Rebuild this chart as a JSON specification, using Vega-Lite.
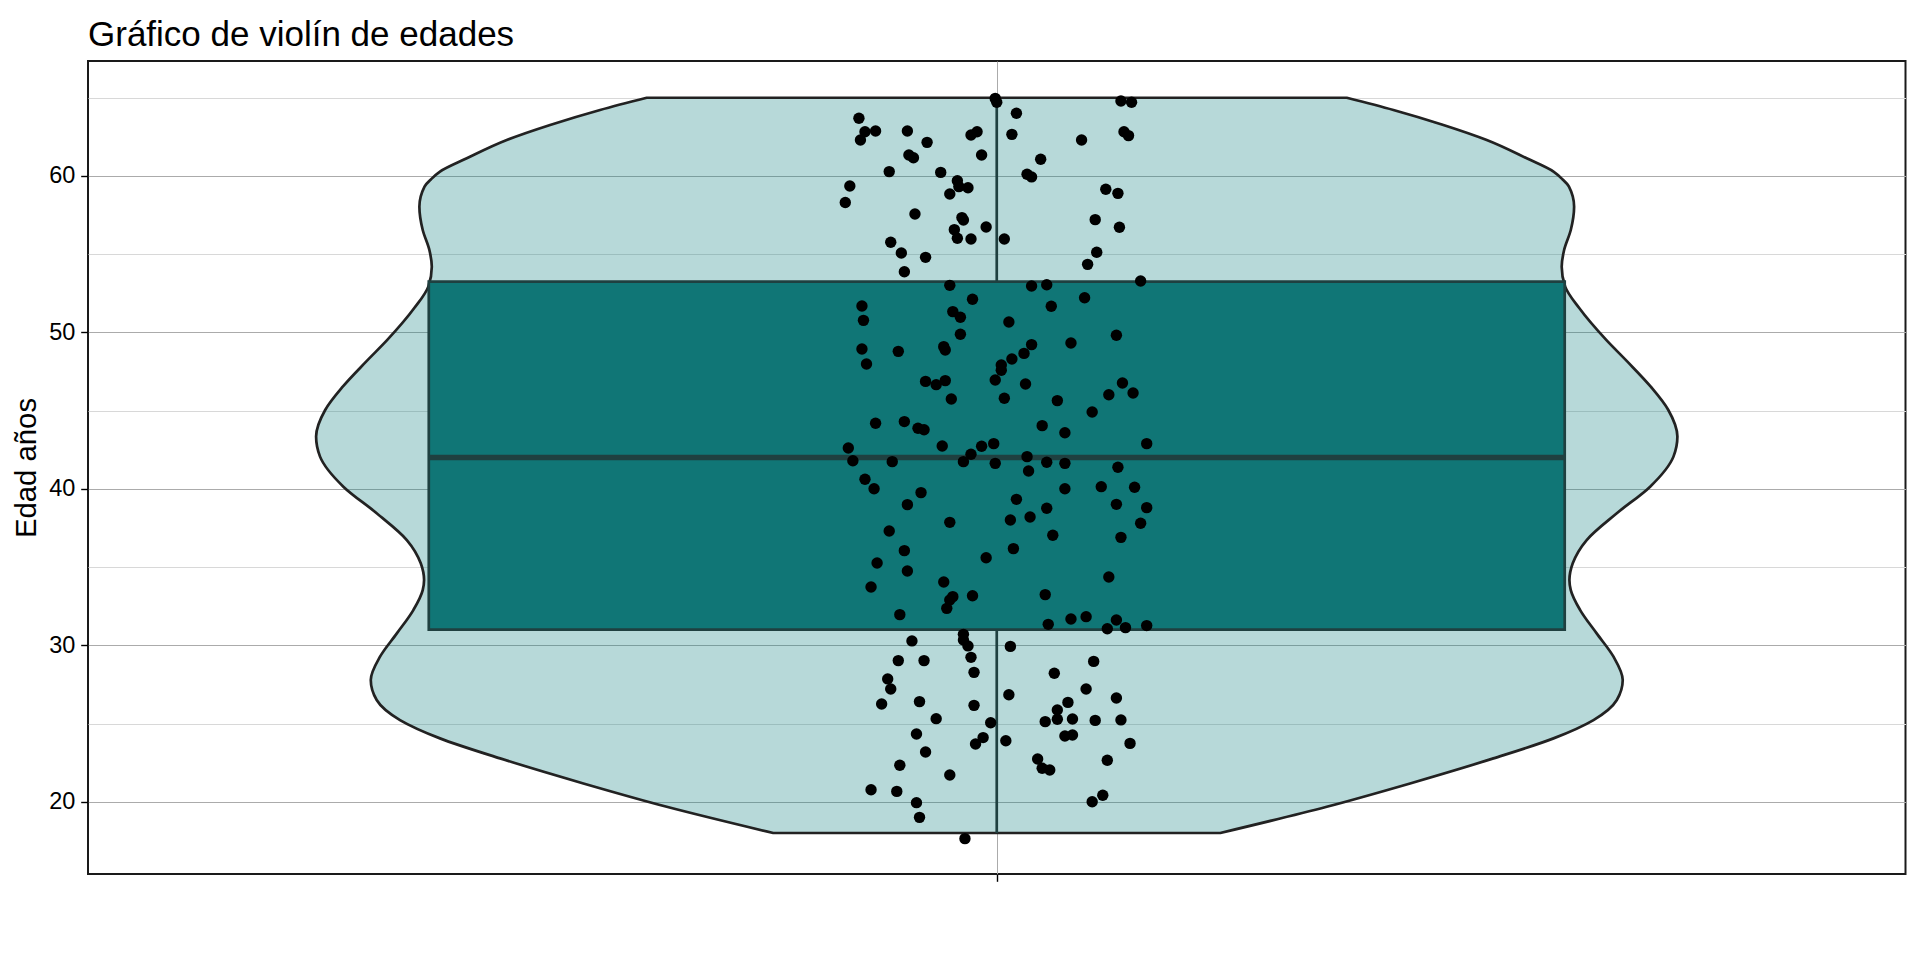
{
  "$schema": "https://vega.github.io/schema/vega-lite/v6.json",
  "width": 1817.5,
  "height": 813,
  "autosize": {"type": "none"},
  "padding": {"left": 88, "top": 61, "right": 14.5, "bottom": 86},
  "background": "white",
  "title": {
    "text": "Gráfico de violín de edades",
    "anchor": "start",
    "frame": "group",
    "font": "Liberation Sans",
    "fontSize": 35,
    "fontWeight": "normal",
    "color": "#000000",
    "baseline": "bottom",
    "offset": 10,
    "dy": 37
  },
  "config": {
    "view": {"stroke": "#1a1a1a", "strokeWidth": 2}
  },
  "datasets": {
    "violin": [
      {"edad": 18.0, "ancho": 0.295},
      {"edad": 19.68, "ancho": 0.4358},
      {"edad": 21.17, "ancho": 0.5458},
      {"edad": 22.77, "ancho": 0.6558},
      {"edad": 24.05, "ancho": 0.7352},
      {"edad": 25.22, "ancho": 0.788},
      {"edad": 26.5, "ancho": 0.8188},
      {"edad": 27.78, "ancho": 0.8266},
      {"edad": 29.27, "ancho": 0.8144},
      {"edad": 30.76, "ancho": 0.7922},
      {"edad": 32.25, "ancho": 0.7704},
      {"edad": 33.53, "ancho": 0.758},
      {"edad": 34.17, "ancho": 0.7562},
      {"edad": 35.24, "ancho": 0.7606},
      {"edad": 36.73, "ancho": 0.779},
      {"edad": 38.44, "ancho": 0.8188},
      {"edad": 40.14, "ancho": 0.8628},
      {"edad": 42.06, "ancho": 0.8936},
      {"edad": 43.34, "ancho": 0.8988},
      {"edad": 45.04, "ancho": 0.8868},
      {"edad": 46.53, "ancho": 0.8636},
      {"edad": 48.13, "ancho": 0.8328},
      {"edad": 49.52, "ancho": 0.8048},
      {"edad": 51.54, "ancho": 0.7694},
      {"edad": 52.93, "ancho": 0.7506},
      {"edad": 54.2, "ancho": 0.746},
      {"edad": 55.27, "ancho": 0.7492},
      {"edad": 56.55, "ancho": 0.758},
      {"edad": 58.04, "ancho": 0.7624},
      {"edad": 59.32, "ancho": 0.7556},
      {"edad": 59.79, "ancho": 0.747},
      {"edad": 60.28, "ancho": 0.7352},
      {"edad": 61.13, "ancho": 0.6998},
      {"edad": 62.3, "ancho": 0.647},
      {"edad": 63.26, "ancho": 0.5898},
      {"edad": 64.22, "ancho": 0.5238},
      {"edad": 65.0, "ancho": 0.4622}
    ],
    "resumen": [
      {"minimo": 18, "q1": 31, "mediana": 42, "q3": 53.25, "maximo": 65}
    ],
    "puntos": [
      {"edad": 64.96, "jitter": -0.001}, {"edad": 64.71, "jitter": 0.0}, {"edad": 64.79, "jitter": 0.082}, {"edad": 64.71, "jitter": 0.089},
      {"edad": 63.69, "jitter": -0.091}, {"edad": 64.01, "jitter": 0.013}, {"edad": 62.83, "jitter": -0.087}, {"edad": 62.88, "jitter": -0.08},
      {"edad": 62.3, "jitter": -0.09}, {"edad": 62.88, "jitter": -0.059}, {"edad": 62.62, "jitter": -0.017}, {"edad": 62.83, "jitter": -0.013},
      {"edad": 62.66, "jitter": 0.01}, {"edad": 62.83, "jitter": 0.084}, {"edad": 62.58, "jitter": 0.087}, {"edad": 62.15, "jitter": -0.046},
      {"edad": 62.3, "jitter": 0.056}, {"edad": 61.34, "jitter": -0.058}, {"edad": 61.17, "jitter": -0.055}, {"edad": 61.34, "jitter": -0.01},
      {"edad": 61.07, "jitter": 0.029}, {"edad": 60.28, "jitter": -0.071}, {"edad": 60.23, "jitter": -0.037}, {"edad": 60.11, "jitter": 0.02},
      {"edad": 59.94, "jitter": 0.023}, {"edad": 59.7, "jitter": -0.026}, {"edad": 59.32, "jitter": -0.025}, {"edad": 59.25, "jitter": -0.019},
      {"edad": 59.36, "jitter": -0.097}, {"edad": 58.85, "jitter": -0.031}, {"edad": 59.15, "jitter": 0.072}, {"edad": 58.89, "jitter": 0.08},
      {"edad": 58.3, "jitter": -0.1}, {"edad": 57.57, "jitter": -0.054}, {"edad": 57.34, "jitter": -0.023}, {"edad": 57.19, "jitter": -0.022},
      {"edad": 57.21, "jitter": 0.065}, {"edad": 56.74, "jitter": -0.007}, {"edad": 56.72, "jitter": 0.081}, {"edad": 56.57, "jitter": -0.028},
      {"edad": 55.76, "jitter": -0.07}, {"edad": 56.02, "jitter": -0.026}, {"edad": 55.97, "jitter": -0.017}, {"edad": 55.97, "jitter": 0.005},
      {"edad": 55.08, "jitter": -0.063}, {"edad": 54.8, "jitter": -0.047}, {"edad": 53.88, "jitter": -0.061}, {"edad": 55.12, "jitter": 0.066},
      {"edad": 54.35, "jitter": 0.06}, {"edad": 53.29, "jitter": 0.095}, {"edad": 53.01, "jitter": -0.031}, {"edad": 52.97, "jitter": 0.023},
      {"edad": 53.05, "jitter": 0.033}, {"edad": 52.12, "jitter": -0.016}, {"edad": 52.22, "jitter": 0.058}, {"edad": 51.69, "jitter": -0.089},
      {"edad": 51.67, "jitter": 0.036}, {"edad": 50.77, "jitter": -0.088}, {"edad": 51.33, "jitter": -0.029}, {"edad": 50.97, "jitter": -0.024},
      {"edad": 50.67, "jitter": 0.008}, {"edad": 49.88, "jitter": -0.024}, {"edad": 49.82, "jitter": 0.079}, {"edad": 48.94, "jitter": -0.089},
      {"edad": 48.79, "jitter": -0.065}, {"edad": 49.09, "jitter": -0.035}, {"edad": 48.88, "jitter": -0.034}, {"edad": 49.22, "jitter": 0.023},
      {"edad": 48.66, "jitter": 0.018}, {"edad": 49.32, "jitter": 0.049}, {"edad": 48.3, "jitter": 0.01}, {"edad": 47.92, "jitter": 0.003},
      {"edad": 47.58, "jitter": 0.003}, {"edad": 47.98, "jitter": -0.086}, {"edad": 46.87, "jitter": -0.047}, {"edad": 46.66, "jitter": -0.04},
      {"edad": 46.92, "jitter": -0.034}, {"edad": 46.96, "jitter": -0.001}, {"edad": 46.7, "jitter": 0.019}, {"edad": 46.77, "jitter": 0.083},
      {"edad": 46.13, "jitter": 0.09}, {"edad": 46.02, "jitter": 0.074}, {"edad": 45.74, "jitter": -0.03}, {"edad": 45.79, "jitter": 0.005},
      {"edad": 45.64, "jitter": 0.04}, {"edad": 44.91, "jitter": 0.063}, {"edad": 44.19, "jitter": -0.08}, {"edad": 44.3, "jitter": -0.061},
      {"edad": 43.87, "jitter": -0.052}, {"edad": 43.78, "jitter": -0.048}, {"edad": 44.04, "jitter": 0.03}, {"edad": 43.59, "jitter": 0.045},
      {"edad": 42.61, "jitter": -0.098}, {"edad": 42.74, "jitter": -0.036}, {"edad": 42.72, "jitter": -0.01}, {"edad": 42.89, "jitter": -0.002},
      {"edad": 42.89, "jitter": 0.099}, {"edad": 42.21, "jitter": -0.017}, {"edad": 41.74, "jitter": -0.022}, {"edad": 41.8, "jitter": -0.095},
      {"edad": 41.74, "jitter": -0.069}, {"edad": 42.06, "jitter": 0.02}, {"edad": 41.7, "jitter": 0.033}, {"edad": 41.63, "jitter": 0.045},
      {"edad": 41.63, "jitter": -0.001}, {"edad": 41.14, "jitter": 0.021}, {"edad": 41.38, "jitter": 0.08}, {"edad": 40.61, "jitter": -0.087},
      {"edad": 40.01, "jitter": -0.081}, {"edad": 39.76, "jitter": -0.05}, {"edad": 38.99, "jitter": -0.059}, {"edad": 40.01, "jitter": 0.045},
      {"edad": 40.14, "jitter": 0.069}, {"edad": 40.1, "jitter": 0.091}, {"edad": 39.33, "jitter": 0.013}, {"edad": 39.01, "jitter": 0.079},
      {"edad": 38.8, "jitter": 0.099}, {"edad": 38.76, "jitter": 0.033}, {"edad": 38.2, "jitter": 0.022}, {"edad": 38.01, "jitter": 0.009},
      {"edad": 37.86, "jitter": -0.031}, {"edad": 37.8, "jitter": 0.095}, {"edad": 37.31, "jitter": -0.071}, {"edad": 37.03, "jitter": 0.037},
      {"edad": 36.9, "jitter": 0.082}, {"edad": 36.05, "jitter": -0.061}, {"edad": 36.18, "jitter": 0.011}, {"edad": 35.6, "jitter": -0.007},
      {"edad": 35.26, "jitter": -0.079}, {"edad": 34.75, "jitter": -0.059}, {"edad": 34.37, "jitter": 0.074}, {"edad": 33.73, "jitter": -0.083},
      {"edad": 34.05, "jitter": -0.035}, {"edad": 33.11, "jitter": -0.029}, {"edad": 32.9, "jitter": -0.031}, {"edad": 33.17, "jitter": -0.016},
      {"edad": 33.24, "jitter": 0.032}, {"edad": 32.36, "jitter": -0.033}, {"edad": 31.96, "jitter": -0.064}, {"edad": 31.34, "jitter": 0.034},
      {"edad": 31.68, "jitter": 0.049}, {"edad": 31.83, "jitter": 0.059}, {"edad": 31.62, "jitter": 0.079}, {"edad": 31.06, "jitter": 0.073},
      {"edad": 31.13, "jitter": 0.085}, {"edad": 31.26, "jitter": 0.099}, {"edad": 30.7, "jitter": -0.022}, {"edad": 30.34, "jitter": -0.022},
      {"edad": 29.96, "jitter": -0.019}, {"edad": 30.28, "jitter": -0.056}, {"edad": 29.93, "jitter": 0.009}, {"edad": 29.23, "jitter": -0.017},
      {"edad": 29.02, "jitter": -0.065}, {"edad": 29.02, "jitter": -0.048}, {"edad": 28.97, "jitter": 0.064}, {"edad": 28.27, "jitter": -0.015},
      {"edad": 27.85, "jitter": -0.072}, {"edad": 27.21, "jitter": -0.07}, {"edad": 28.21, "jitter": 0.038}, {"edad": 27.21, "jitter": 0.059},
      {"edad": 26.84, "jitter": 0.008}, {"edad": 26.25, "jitter": -0.076}, {"edad": 26.4, "jitter": -0.051}, {"edad": 26.16, "jitter": -0.015},
      {"edad": 26.35, "jitter": 0.047}, {"edad": 26.63, "jitter": 0.079}, {"edad": 25.86, "jitter": 0.04}, {"edad": 25.31, "jitter": -0.04},
      {"edad": 25.05, "jitter": -0.004}, {"edad": 25.12, "jitter": 0.032}, {"edad": 25.27, "jitter": 0.04}, {"edad": 25.29, "jitter": 0.05},
      {"edad": 25.2, "jitter": 0.065}, {"edad": 25.23, "jitter": 0.082}, {"edad": 24.33, "jitter": -0.053}, {"edad": 23.69, "jitter": -0.014},
      {"edad": 24.1, "jitter": -0.009}, {"edad": 23.9, "jitter": 0.006}, {"edad": 24.2, "jitter": 0.045}, {"edad": 24.27, "jitter": 0.05},
      {"edad": 23.73, "jitter": 0.088}, {"edad": 23.18, "jitter": -0.047}, {"edad": 22.33, "jitter": -0.064}, {"edad": 22.73, "jitter": 0.027},
      {"edad": 22.14, "jitter": 0.03}, {"edad": 22.03, "jitter": 0.035}, {"edad": 22.65, "jitter": 0.073}, {"edad": 21.71, "jitter": -0.031},
      {"edad": 20.77, "jitter": -0.083}, {"edad": 20.66, "jitter": -0.066}, {"edad": 19.94, "jitter": -0.053}, {"edad": 19.0, "jitter": -0.051},
      {"edad": 20.41, "jitter": 0.07}, {"edad": 20.0, "jitter": 0.063}, {"edad": 17.64, "jitter": -0.021}
    ]
  },
  "resolve": {"axis": {"y": "independent", "x": "independent"}, "scale": {"x": "independent"}},
  "layer": [
    {
      "data": {"name": "violin"},
      "mark": {"type": "area", "orient": "horizontal", "interpolate": "monotone", "fill": "#128080", "fillOpacity": 0.3, "stroke": "#222222", "strokeWidth": 2.7, "strokeJoin": "round"},
      "encoding": {
        "y": {
          "field": "edad", "type": "quantitative",
          "scale": {"domain": [15.38, 67.35], "nice": false, "zero": false},
          "axis": {
            "title": "Edad años", "values": [20, 30, 40, 50, 60],
            "grid": true, "gridColor": "#ababab", "gridWidth": 1,
            "domain": false, "ticks": true, "tickSize": 7.3, "tickWidth": 1.4, "tickColor": "#000000",
            "labelFont": "Liberation Sans", "labelFontSize": 23.5, "labelColor": "#000000", "labelPadding": 5.9,
            "titleFont": "Liberation Sans", "titleFontSize": 29.3, "titleFontWeight": "normal", "titleColor": "#000000", "titlePadding": 7.3
          }
        },
        "x": {
          "field": "ancho", "type": "quantitative", "stack": "center",
          "scale": {"domain": [-0.1506, 1.0494], "nice": false, "zero": false},
          "axis": null
        }
      }
    },
    {
      "data": {"name": "resumen"},
      "mark": {"type": "rule", "color": "#1f4040", "strokeWidth": 2.7},
      "encoding": {
        "x": {"datum": 0, "type": "quantitative", "scale": {"domain": [-0.6, 0.6], "nice": false, "zero": false}, "axis": null},
        "y": {"field": "minimo", "type": "quantitative", "axis": null},
        "y2": {"field": "maximo"}
      }
    },
    {
      "data": {"name": "resumen"},
      "mark": {"type": "rect", "fill": "#107676", "stroke": "#1f4040", "strokeWidth": 2.7},
      "encoding": {
        "x": {"datum": -0.375, "type": "quantitative", "scale": {"domain": [-0.6, 0.6], "nice": false, "zero": false}, "axis": null},
        "x2": {"datum": 0.375},
        "y": {"field": "q1", "type": "quantitative", "axis": null},
        "y2": {"field": "q3"}
      }
    },
    {
      "data": {"name": "resumen"},
      "mark": {"type": "rule", "color": "#1f4040", "strokeWidth": 5.4},
      "encoding": {
        "x": {"datum": -0.375, "type": "quantitative", "scale": {"domain": [-0.6, 0.6], "nice": false, "zero": false}, "axis": null},
        "x2": {"datum": 0.375},
        "y": {"field": "mediana", "type": "quantitative", "axis": null}
      }
    },
    {
      "data": {"name": "puntos"},
      "mark": {"type": "circle", "color": "#000000", "opacity": 1, "size": 130},
      "encoding": {
        "x": {
          "field": "jitter", "type": "quantitative",
          "scale": {"domain": [-0.6, 0.6], "nice": false, "zero": false},
          "axis": {"values": [0], "labels": false, "domain": false, "ticks": true, "tickSize": 7.3, "tickWidth": 1.4, "tickColor": "#000000", "grid": true, "gridColor": "#ababab", "gridWidth": 1, "title": null, "orient": "bottom"}
        },
        "y": {
          "field": "edad", "type": "quantitative",
          "axis": {"values": [25, 35, 45, 55, 65], "grid": true, "gridColor": "#d8d8d8", "gridWidth": 1, "labels": false, "ticks": false, "domain": false, "title": null, "orient": "right"}
        }
      }
    }
  ]
}
